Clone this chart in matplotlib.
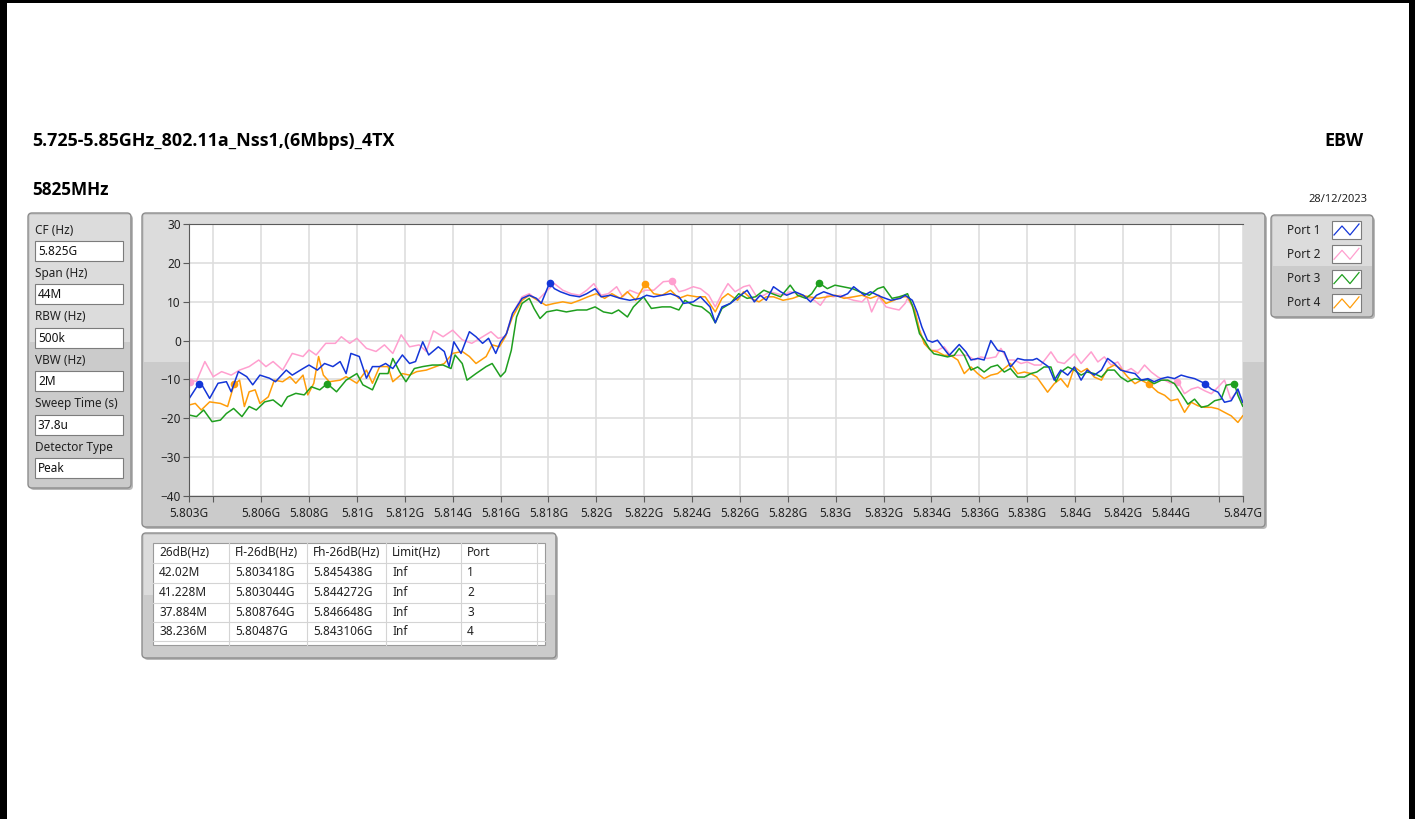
import numpy as np
import matplotlib
matplotlib.use("Agg")
import matplotlib.pyplot as plt
from matplotlib.patches import FancyBboxPatch, Rectangle

plt.rcParams['font.family'] = ['Noto Sans', 'DejaVu Sans']
HEAD_FONT = ['Open Sans', 'DejaVu Sans']

W, H = 1415, 819

title = "5.725-5.85GHz_802.11a_Nss1,(6Mbps)_4TX"
test_name = "EBW"
channel = "5825MHz"
date = "28/12/2023"

# measurement settings panel
param_names = ["CF (Hz)", "Span (Hz)", "RBW (Hz)", "VBW (Hz)", "Sweep Time (s)", "Detector Type"]
param_values = ["5.825G", "44M", "500k", "2M", "37.8u", "Peak"]

# result table
table_cols = ["26dB(Hz)", "Fl-26dB(Hz)", "Fh-26dB(Hz)", "Limit(Hz)", "Port"]
bw_26db = ["42.02M", "41.228M", "37.884M", "38.236M"]
fl_26db = ["5.803418G", "5.803044G", "5.808764G", "5.80487G"]
fh_26db = ["5.845438G", "5.844272G", "5.846648G", "5.843106G"]
limits = ["Inf", "Inf", "Inf", "Inf"]
ports = ["1", "2", "3", "4"]

port_names = ["Port 1", "Port 2", "Port 3", "Port 4"]
port_colors = ["#1436d8", "#ff9fcf", "#1f9f1f", "#ff9d0a"]

# traces: offset from 5.803 GHz in MHz, level in dB
p1_off = [0.0, 0.45, 0.85, 1.2, 1.55, 1.75, 2.05, 2.4, 2.65, 2.95, 3.35, 3.6, 4.05, 4.3, 4.75, 5.0,
          5.35, 5.65, 6.0, 6.3, 6.55, 6.75, 7.1, 7.4, 7.65, 7.95, 8.2, 8.5, 8.9, 9.2, 9.45, 9.75,
          10.0, 10.4, 10.65, 10.85, 11.05, 11.35, 11.7, 11.975, 12.25, 12.5, 12.8, 13.0, 13.25,
          13.5, 13.9, 14.2, 14.5, 14.7, 15.05, 15.25, 15.5, 15.9, 16.3, 16.6, 16.95, 17.2, 17.6,
          18.0, 18.4, 18.85, 19.1, 19.4, 19.75, 20.1, 20.45, 20.65, 21.05, 21.35, 21.75, 21.97,
          22.25, 22.6, 22.95, 23.3, 23.6, 23.85, 24.1, 24.4, 24.7, 24.95, 25.3, 25.65, 25.95,
          26.2, 26.5, 26.9, 27.2, 27.5, 27.75, 28.2, 28.45, 28.9, 29.3, 29.7, 29.9, 30.2, 30.4,
          30.6, 30.83, 31.04, 31.25, 31.46, 31.74, 32.16, 32.44, 32.65, 32.93, 33.2, 33.48,
          33.76, 34.04, 34.3, 34.6, 34.88, 35.23, 35.4, 35.7, 35.9, 36.13, 36.4, 36.69, 36.97,
          37.25, 37.5, 37.8, 38.1, 38.36, 38.64, 38.9, 39.2, 39.5, 39.76, 40.04, 40.3, 40.6,
          40.87, 41.15, 41.43, 41.71, 41.99, 42.4, 42.69, 42.97, 43.24, 43.52, 43.8, 44.0]
p1_db = [-14.9, -10.6, -14.9, -11.0, -10.6, -13.2, -8.0, -9.3, -11.4, -8.9, -9.7, -10.6, -7.6, -8.9,
         -7.2, -6.3, -7.6, -5.9, -6.7, -5.4, -8.5, -3.3, -4.1, -9.7, -6.7, -6.7, -5.9, -7.2, -3.7,
         -5.9, -5.4, -0.3, -3.7, -1.6, -2.8, -6.7, -0.3, -3.3, 2.3, 1.0, -0.7, 0.6, -3.3, -0.3, 1.8,
         7.0, 10.9, 11.7, 10.9, 9.6, 14.9, 13.4, 12.6, 11.7, 11.3, 12.1, 13.4, 11.3, 11.7, 10.9,
         10.4, 10.9, 11.7, 11.3, 11.7, 12.1, 11.3, 9.6, 10.0, 11.3, 8.7, 4.6, 8.7, 9.6, 11.3, 13.0,
         10.0, 11.7, 10.4, 13.9, 12.6, 11.7, 12.6, 11.7, 10.0, 11.7, 12.6, 11.7, 11.3, 12.1, 13.9,
         11.7, 12.6, 11.3, 10.4, 10.9, 11.7, 10.4, 7.4, 3.5, 0.1, -0.4, 0.1, -1.6, -3.8, -1.0, -2.9,
         -5.0, -4.6, -5.0, 0.0, -2.5, -2.9, -6.8, -4.6, -5.0, -5.0, -4.6, -5.9, -6.8, -10.2, -7.6,
         -8.9, -6.8, -10.2, -7.6, -8.9, -7.6, -4.6, -5.9, -7.6, -8.1, -8.5, -10.2, -9.8, -10.6,
         -9.8, -9.4, -9.8, -8.9, -9.4, -9.8, -11.0, -12.5, -13.3, -15.9, -15.5, -12.5, -15.9]

p2_off = [0.0, 0.3, 0.65, 1.0, 1.35, 1.75, 2.1, 2.5, 2.9, 3.2, 3.5, 3.9, 4.3, 4.75, 5.0, 5.3, 5.7,
          6.1, 6.35, 6.7, 7.0, 7.4, 7.8, 8.15, 8.5, 8.85, 9.2, 9.6, 9.9, 10.2, 10.6, 11.0, 11.4,
          11.8, 12.25, 12.6, 12.9, 13.2, 13.5, 13.9, 14.2, 14.55, 14.9, 15.25, 15.6, 15.95, 16.3,
          16.6, 16.9, 17.2, 17.5, 17.85, 18.1, 18.4, 18.75, 19.05, 19.4, 19.8, 20.15, 20.45, 20.7,
          21.05, 21.35, 21.7, 21.97, 22.25, 22.5, 22.8, 23.15, 23.4, 23.7, 24.0, 24.25, 24.55,
          24.8, 25.1, 25.4, 25.75, 26.1, 26.36, 26.65, 26.9, 27.2, 27.5, 27.75, 28.1, 28.3, 28.5,
          28.8, 29.1, 29.35, 29.65, 29.9, 30.0, 30.3, 30.5, 30.7, 30.97, 31.25, 31.53, 31.8, 32.1,
          32.5, 32.8, 33.06, 33.34, 33.69, 33.9, 34.18, 34.46, 34.74, 35.0, 35.3, 35.57, 35.99,
          36.27, 36.55, 36.97, 37.25, 37.67, 37.95, 38.22, 38.5, 38.78, 39.06, 39.34, 39.62, 39.9,
          40.18, 40.46, 40.74, 41.01, 41.29, 41.57, 41.85, 42.13, 42.4, 42.69, 42.97, 43.24,
          43.5, 43.8, 44.0]
p2_db = [-10.2, -10.5, -5.4, -9.3, -8.0, -8.9, -7.6, -6.7, -5.0, -6.7, -5.4, -7.6, -3.3, -4.1, -2.4,
         -3.7, -0.7, -0.7, 1.0, -0.7, 0.6, -2.0, -2.8, -1.1, -3.3, 1.5, -1.6, -1.1, -2.8, 2.5, 1.0,
         2.7, 0.2, -0.7, 1.0, 2.3, 0.6, 1.0, 7.0, 11.3, 12.1, 10.4, 12.6, 14.7, 13.0, 12.1, 11.7,
         13.0, 14.7, 11.7, 12.1, 13.9, 11.3, 13.0, 12.1, 13.0, 13.0, 15.2, 15.4, 12.6, 13.0, 13.9,
         13.4, 11.7, 8.7, 12.1, 14.7, 12.6, 13.9, 14.3, 11.3, 11.7, 12.6, 12.1, 11.7, 12.6, 12.1,
         11.3, 10.4, 9.1, 11.7, 11.3, 11.7, 10.9, 10.4, 10.0, 11.3, 7.4, 11.3, 8.7, 8.3, 7.9, 9.6,
         10.9, 7.8, 2.7, -0.3, -2.5, -2.5, -1.6, -3.8, -3.8, -3.8, -5.0, -4.2, -4.6, -4.2, -2.0,
         -5.0, -5.0, -5.9, -5.5, -6.3, -6.3, -2.9, -5.5, -5.9, -3.4, -5.9, -2.9, -5.5, -4.2, -6.3,
         -5.5, -8.1, -7.2, -8.5, -6.3, -8.1, -9.4, -10.2, -11.1, -10.6, -13.7, -12.5, -12.0, -12.9,
         -13.7, -12.0, -10.2, -15.1, -12.9, -16.4]

p3_off = [0.0, 0.3, 0.6, 0.95, 1.3, 1.55, 1.85, 2.2, 2.5, 2.8, 3.15, 3.5, 3.85, 4.1, 4.45, 4.8, 5.1,
          5.45, 5.76, 6.15, 6.55, 7.0, 7.25, 7.65, 7.95, 8.3, 8.5, 8.78, 9.05, 9.4, 9.75, 10.15,
          10.6, 10.93, 11.1, 11.4, 11.6, 11.975, 12.4, 12.65, 13.0, 13.2, 13.45, 13.67, 13.9,
          14.2, 14.4, 14.65, 14.925, 15.35, 15.75, 16.2, 16.6, 16.95, 17.3, 17.65, 17.93, 18.3,
          18.55, 18.97, 19.3, 19.75, 20.1, 20.45, 20.7, 21.05, 21.4, 21.75, 21.97, 22.25, 22.6,
          22.95, 23.3, 23.65, 24.0, 24.35, 24.7, 25.1, 25.4, 25.75, 26.0, 26.3, 26.65, 26.97,
          27.3, 27.7, 28.0, 28.4, 28.75, 29.0, 29.35, 29.65, 29.85, 30.0, 30.2, 30.5, 30.7, 30.9,
          31.1, 31.4, 31.67, 31.95, 32.16, 32.37, 32.65, 32.93, 33.2, 33.48, 33.76, 34.04, 34.3,
          34.6, 34.88, 35.15, 35.4, 35.7, 35.99, 36.2, 36.4, 36.7, 36.97, 37.25, 37.5, 37.8, 38.1,
          38.36, 38.64, 38.9, 39.2, 39.5, 39.76, 40.04, 40.3, 40.6, 40.87, 41.15, 41.43, 41.71,
          41.99, 42.27, 42.55, 42.83, 43.1, 43.31, 43.65, 43.8, 44.0]
p3_db = [-19.2, -19.6, -17.9, -20.9, -20.5, -18.8, -17.5, -19.6, -17.0, -17.9, -15.8, -15.3, -17.0,
         -14.5, -13.6, -14.0, -11.9, -12.7, -11.1, -13.2, -10.2, -8.5, -11.4, -12.7, -8.5, -8.5,
         -4.6, -8.0, -10.6, -7.2, -6.7, -6.3, -6.3, -7.2, -3.7, -5.9, -10.2, -8.5, -6.7, -5.9, -9.3,
         -8.0, -2.5, 6.1, 9.6, 10.9, 8.3, 5.7, 7.4, 7.9, 7.4, 7.9, 7.9, 8.7, 7.4, 7.0, 7.9, 6.1, 8.7,
         11.3, 8.3, 8.7, 8.7, 7.9, 10.4, 9.1, 8.7, 7.0, 4.6, 8.3, 9.6, 12.1, 10.9, 11.3, 13.0, 12.1,
         11.3, 14.3, 11.7, 10.9, 12.1, 14.9, 13.4, 14.3, 13.9, 13.4, 12.6, 11.7, 13.4, 13.9, 10.9,
         11.3, 11.7, 12.1, 9.1, 1.8, 0.1, -2.0, -3.4, -3.8, -4.2, -3.8, -2.0, -3.8, -7.6, -6.8,
         -8.1, -6.8, -6.3, -8.1, -7.2, -9.4, -9.4, -8.5, -8.1, -6.8, -6.8, -10.6, -8.1, -6.8, -7.6,
         -8.9, -8.1, -8.5, -9.4, -7.6, -7.6, -9.4, -10.6, -9.8, -10.2, -10.1, -11.1, -10.2, -10.2,
         -11.1, -13.7, -16.4, -15.1, -17.2, -16.8, -15.5, -15.1, -11.5, -11.1, -14.1, -16.9]

p4_off = [0.0, 0.25, 0.5, 0.85, 1.3, 1.6, 1.87, 2.1, 2.3, 2.5, 2.75, 2.95, 3.3, 3.55, 3.9, 4.2, 4.45,
          4.75, 4.95, 5.2, 5.4, 5.6, 5.85, 6.3, 6.55, 7.0, 7.4, 7.65, 7.95, 8.3, 8.5, 8.9, 9.2, 9.5,
          9.9, 10.3, 10.65, 11.0, 11.4, 11.7, 11.975, 12.4, 12.65, 12.95, 13.2, 13.5, 13.9, 14.2,
          14.55, 14.9, 15.25, 15.6, 15.95, 16.3, 16.65, 17.0, 17.35, 17.65, 18.0, 18.3, 18.65,
          19.05, 19.4, 19.75, 20.1, 20.45, 20.8, 21.2, 21.55, 21.97, 22.25, 22.5, 22.9, 23.15,
          23.45, 23.8, 24.1, 24.4, 24.8, 25.2, 25.55, 25.9, 26.25, 26.65, 27.0, 27.35, 27.75,
          28.1, 28.45, 28.8, 29.1, 29.43, 29.75, 30.0, 30.3, 30.5, 30.7, 30.97, 31.25, 31.53,
          31.8, 32.1, 32.37, 32.65, 32.93, 33.2, 33.48, 33.76, 34.04, 34.3, 34.6, 34.88, 35.15,
          35.4, 35.85, 36.13, 36.4, 36.69, 36.97, 37.25, 37.5, 37.8, 38.1, 38.36, 38.64, 38.9,
          39.2, 39.5, 39.76, 40.1, 40.46, 40.74, 41.0, 41.29, 41.57, 41.85, 42.13, 42.4, 42.69,
          42.97, 43.24, 43.52, 43.8, 44.0]
p4_db = [-16.6, -16.2, -17.9, -15.8, -16.2, -17.0, -11.3, -10.2, -17.0, -13.2, -12.7, -16.2, -14.5,
         -10.2, -10.6, -9.3, -11.0, -8.9, -14.0, -11.0, -4.1, -8.9, -10.6, -10.2, -9.3, -11.0, -7.6,
         -11.0, -6.7, -6.7, -10.6, -8.5, -8.9, -8.0, -7.6, -6.7, -5.9, -3.3, -2.8, -4.1, -5.9, -4.1,
         -1.1, -1.6, 1.0, 6.1, 10.4, 11.7, 10.4, 9.1, 9.6, 10.0, 9.6, 10.4, 11.3, 12.1, 10.9, 12.1,
         10.9, 12.6, 10.4, 14.7, 12.1, 11.7, 13.0, 10.9, 11.7, 11.3, 11.3, 7.4, 10.9, 12.1, 10.4,
         12.6, 10.9, 10.0, 11.3, 11.3, 10.4, 10.9, 11.7, 11.3, 10.9, 11.3, 11.7, 10.9, 11.3, 11.7,
         10.9, 11.7, 9.6, 10.4, 11.3, 11.3, 7.8, 2.7, -0.8, -2.5, -2.9, -3.8, -3.8, -5.0, -8.5, -6.8,
         -8.5, -9.8, -8.9, -8.5, -7.2, -5.9, -8.5, -8.1, -8.5, -9.4, -13.3, -11.1, -9.8, -12.0,
         -6.8, -8.1, -7.2, -9.4, -10.2, -7.2, -6.3, -7.2, -9.4, -11.1, -10.2, -11.3, -13.3, -14.1,
         -15.5, -15.1, -18.5, -15.9, -16.8, -17.2, -17.2, -17.6, -18.5, -19.4, -21.1, -19.4]

x_ticks = [5.803, 5.804, 5.806, 5.808, 5.810, 5.812, 5.814, 5.816, 5.818, 5.820, 5.822, 5.824,
           5.826, 5.828, 5.830, 5.832, 5.834, 5.836, 5.838, 5.840, 5.842, 5.844, 5.846, 5.847]
x_labels = ["5.803G", "", "5.806G", "5.808G", "5.81G", "5.812G", "5.814G", "5.816G", "5.818G",
            "5.82G", "5.822G", "5.824G", "5.826G", "5.828G", "5.83G", "5.832G", "5.834G",
            "5.836G", "5.838G", "5.84G", "5.842G", "5.844G", "", "5.847G"]
y_ticks = [-40, -30, -20, -10, 0, 10, 20, 30]

fig = plt.figure(figsize=(W / 100, H / 100), dpi=100)
fig.patch.set_facecolor("white")

# background layer in pixel coordinates
bg = fig.add_axes([0, 0, 1, 1], zorder=0)
bg.set_xlim(0, W)
bg.set_ylim(H, 0)
bg.axis("off")


def panel(x0, y0, x1, y1, split):
    bg.add_patch(FancyBboxPatch((x0 + 2, y0 + 2), x1 - x0, y1 - y0,
                                boxstyle="round,pad=0,rounding_size=4", fc="#b9b9b9", ec="none"))
    bg.add_patch(FancyBboxPatch((x0, y0), x1 - x0, y1 - y0,
                                boxstyle="round,pad=0,rounding_size=4", fc="#cbcbcb",
                                ec="#8d8d8d", lw=1.0))
    bg.add_patch(Rectangle((x0 + 1.5, y0 + 1.5), x1 - x0 - 3, split - y0 - 1.5,
                           fc="#dcdcdc", ec="none"))


# page border
bg.add_patch(Rectangle((0, 0), 7, H, fc="black", ec="none"))
bg.add_patch(Rectangle((0, 0), W, 3, fc="black", ec="none"))
bg.add_patch(Rectangle((1409, 0), 6, H, fc="black", ec="none"))

bg.text(32, 141, title, fontsize=12.9, fontweight="bold", family=HEAD_FONT, ha="left", va="center")
bg.text(1363, 141, test_name, fontsize=12.9, fontweight="bold", family=HEAD_FONT,
        ha="right", va="center")
bg.text(32, 190, channel, fontsize=12.3, fontweight="bold", family=HEAD_FONT, ha="left", va="center")
bg.text(1367, 200, date, fontsize=8, ha="right", va="center", color="#222222")

# settings panel
panel(28, 213, 131, 488, 342)
for i, (name, val) in enumerate(zip(param_names, param_values)):
    ly = 230 + i * 43.4
    bg.text(35, ly, name, fontsize=8.5, ha="left", va="center", color="#222222")
    bg.add_patch(Rectangle((35, ly + 11), 88, 20, fc="white", ec="#7c7c7c", lw=0.8))
    bg.text(38, ly + 21.5, val, fontsize=8.5, ha="left", va="center", color="#111111")

# graph frame
panel(142, 213, 1265, 527, 362)

# legend panel
panel(1271, 215, 1373, 317, 266)
for i, (name, col) in enumerate(zip(port_names, port_colors)):
    cy = 230 + i * 24.3
    bg.text(1287, cy, name, fontsize=8.5, ha="left", va="center", color="#222222")
    bg.add_patch(Rectangle((1332, cy - 9), 29, 18, fc="white", ec="#7c7c7c", lw=0.8))
    bg.plot([1334, 1342, 1350, 1359], [cy + 5, cy - 4, cy + 5, cy - 6], color=col, lw=0.9)

# result table
panel(142, 533, 556, 658, 595)
bg.add_patch(Rectangle((153, 543), 392, 102, fc="white", ec="#9a9a9a", lw=0.8))
col_x = [153, 229, 307, 386, 461, 537, 545]
row_y = [543, 563, 583, 603, 622, 641, 660]
for cx in col_x[1:-1]:
    bg.plot([cx, cx], [543, 645], color="#d4d4d4", lw=0.8)
for ry in row_y[1:-1]:
    bg.plot([153, 545], [ry, ry], color="#d4d4d4", lw=0.8)
for j, head in enumerate(table_cols):
    bg.text(col_x[j] + 6, 553, head, fontsize=8.5, ha="left", va="center", color="#222222")
rows = list(zip(bw_26db, fl_26db, fh_26db, limits, ports))
for r, row in enumerate(rows):
    for j, cell in enumerate(row):
        bg.text(col_x[j] + 6, (row_y[r + 1] + row_y[r + 2]) / 2, cell, fontsize=8.5,
                ha="left", va="center", color="#222222")

# spectrum graph
ax = fig.add_axes([189.3 / W, 1 - 495.7 / H, (1242.7 - 189.3) / W, (495.7 - 224.3) / H], zorder=1)
ax.set_facecolor("white")
ax.set_xlim(5.803, 5.847)
ax.set_ylim(-40, 30)
ax.set_xticks(x_ticks)
ax.set_xticklabels(x_labels)
ax.set_yticks(y_ticks)
ax.grid(True, color="#dedede", lw=1.2)
ax.set_axisbelow(True)
for side in ["left", "bottom", "top"]:
    ax.spines[side].set_color("#5a5a5a")
    ax.spines[side].set_linewidth(0.8)
ax.spines["right"].set_visible(False)
ax.tick_params(axis="both", direction="out", length=4, width=0.8, color="#5a5a5a",
               labelsize=8.5, labelcolor="#222222")
ax.tick_params(axis="x", pad=4)
ax.tick_params(axis="y", pad=2)

traces = [(p1_off, p1_db), (p2_off, p2_db), (p3_off, p3_db), (p4_off, p4_db)]
fl_vals = [float(s[:-1]) for s in fl_26db]
fh_vals = [float(s[:-1]) for s in fh_26db]
draw_order = [1, 3, 2, 0]
for k in draw_order:
    off, db = traces[k]
    f = 5.803 + np.array(off) / 1000.0
    db = np.array(db)
    col = port_colors[k]
    ax.plot(f, db, color=col, lw=1.1)
    pk = np.argmax(db)
    level = db[pk] - 26
    ax.plot([f[pk], fl_vals[k], fh_vals[k]], [db[pk], level, level], "o", color=col,
            ms=4.5, mec=col)

fig.savefig("out.png", dpi=100)
